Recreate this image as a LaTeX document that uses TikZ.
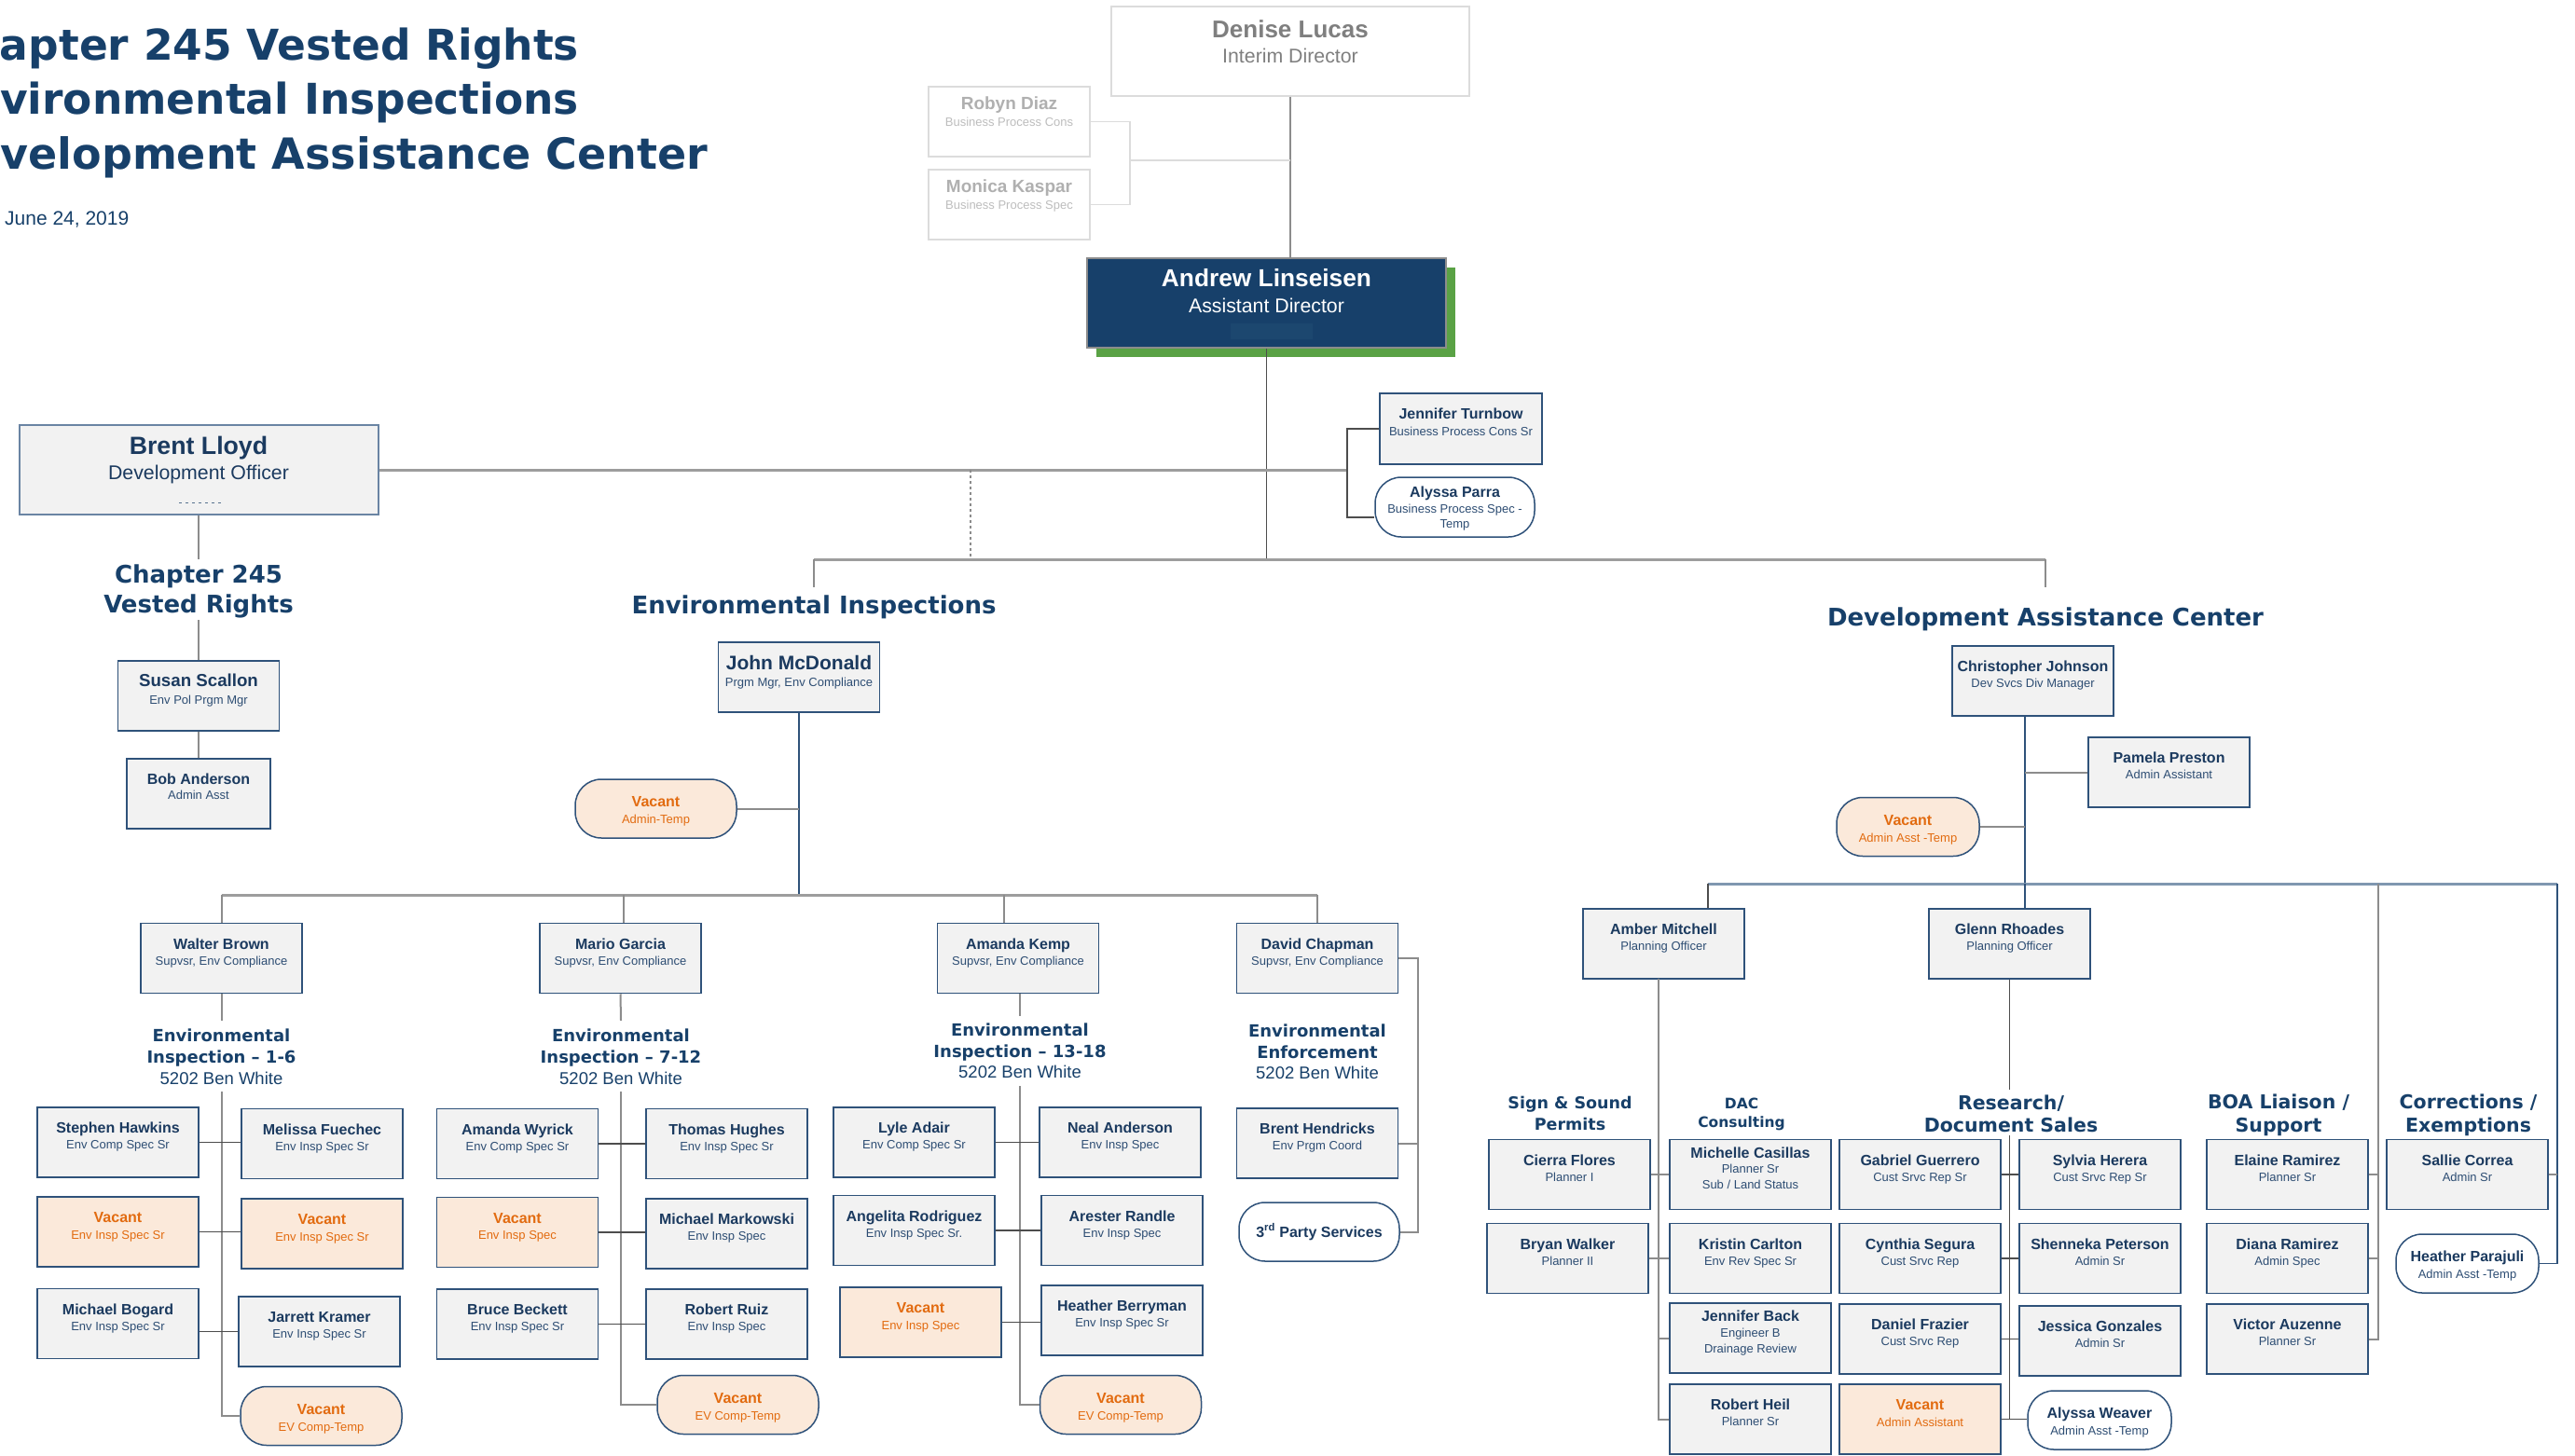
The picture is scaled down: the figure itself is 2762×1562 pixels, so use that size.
\documentclass[tikz,border=0pt]{standalone}
\usepackage{fontspec}
\setmainfont{Liberation Sans}
\newfontfamily\hdrf{DejaVu Sans}
\usetikzlibrary{calc}
\definecolor{hdrc}{HTML}{17406A}
\definecolor{namec}{HTML}{1B3A5F}
\definecolor{titlec}{HTML}{2D4D73}
\definecolor{boxc}{HTML}{2F527A}
\definecolor{boxf}{HTML}{F2F2F2}
\definecolor{vacf}{HTML}{FBE9DA}
\definecolor{vact}{HTML}{E26B10}
\definecolor{lnc}{HTML}{8C8C8C}
\definecolor{dkl}{HTML}{4D4D4D}
\definecolor{dacb}{HTML}{7F97B0}
\definecolor{andf}{HTML}{17406A}
\definecolor{andband}{HTML}{1C476F}
\definecolor{greenc}{HTML}{5AA245}
\definecolor{greyname}{HTML}{7F7F7F}
\definecolor{lgname}{HTML}{B0B0B0}
\definecolor{lgtitle}{HTML}{BDBDBD}
\definecolor{lgborder}{HTML}{DCDCDC}
\definecolor{brentb}{HTML}{6A84A3}
% generic text block: width, height, first baseline, line spacing, content
\newcommand\crd[5]{\parbox[t][#2pt][t]{#1pt}{\centering\fontsize{13pt}{#4pt}\selectfont\rule{0pt}{#3pt}#5}}
\newcommand\nm[2][16]{{\bfseries\fontsize{#1pt}{17pt}\selectfont #2}}
\newcommand\card[2]{\crd{173}{75}{27.7}{17}{\nm{#1}\\{\color{titlec}#2}}}
\newcommand\vcard[1]{\crd{173}{75}{27.7}{17.5}{\nm{Vacant}\\#1}}
\newcommand\rv[2]{\crd{#1}{63}{29.7}{18}{\nm{Vacant}\\#2}}
\newcommand\rcard[3]{\crd{#1}{63}{29.7}{18}{\nm{#2}\\{\color{titlec}#3}}}
\begin{document}
\begin{tikzpicture}[x=1pt,y=-1pt,
  pbox/.style={draw=boxc, fill=boxf, line width=1.5pt, inner sep=0pt, text=namec},
  vbox/.style={pbox, fill=vacf, text=vact},
  rbox/.style={pbox, fill=white, rounded corners=28pt},
  rvbox/.style={vbox, rounded corners=28pt},
  lgbox/.style={draw=lgborder, fill=white, line width=1.5pt, inner sep=0pt, text=lgname},
  hdr/.style={inner sep=0pt, text=hdrc},
  ln/.style={draw=lnc, line width=2pt},
  lnl/.style={draw=lnc, line width=1.5pt},
  lnd/.style={draw=dkl, line width=1.3pt},
  lnn/.style={draw=boxc, line width=1.3pt},
  lnlg/.style={draw=lgborder, line width=1.5pt},
  busg/.style={draw=lnc!85!white, line width=3pt},
  busb/.style={draw=dacb, line width=3pt}]
\useasboundingbox (0,0) rectangle (2762,1562);
\fill[white] (0,0) rectangle (2762,1562);

% ---------- title ----------
\node[hdr, anchor=base west] (t1) at (-66,65) {\hdrf\bfseries\fontsize{45.5pt}{50pt}\selectfont Chapter 245 Vested Rights};
\node[hdr, anchor=base west] (t2) at (-63.5,123) {\hdrf\bfseries\fontsize{45.5pt}{50pt}\selectfont Environmental Inspections};
\node[hdr, anchor=base west] (t3) at (-69,182) {\hdrf\bfseries\fontsize{46pt}{50pt}\selectfont Development Assistance Center};
\node[hdr, anchor=base west] (date) at (5,242) {\fontsize{21pt}{24pt}\selectfont June 24, 2019};

% ---------- top ----------
\fill[greenc] (1176,287) rectangle (1561,383);
\node[draw=lgborder, fill=white, line width=1.5pt, inner sep=0pt, text=greyname] (denise) at (1384,55)
  {\crd{384}{96}{33.3}{27.3}{\nm[26]{Denise Lucas}\\\fontsize{21.3pt}{27.3pt}\selectfont Interim Director}};
\node[lgbox] (robyn) at (1082.5,130.5) {\crd{173}{75}{24.8}{18}{\nm[19]{Robyn Diaz}\\{\color{lgtitle}Business Process Cons}}};
\node[lgbox] (monica) at (1082.5,219.5) {\crd{173}{75}{24.8}{18}{\nm[19]{Monica Kaspar}\\{\color{lgtitle}Business Process Spec}}};
\node[draw=lnc, fill=andf, line width=1.5pt, inner sep=0pt, text=white] (andrew) at (1358.5,325)
  {\crd{385}{96}{30.4}{28.2}{\nm[26.3]{Andrew Linseisen}\\\fontsize{21.3pt}{28.2pt}\selectfont Assistant Director}};
\fill[andband] (1320,347) rectangle (1408,364);

\node[pbox, draw=brentb, line width=2pt] (brent) at (213,504)
  {\crd{385}{96}{31.6}{27}{\nm[26.7]{Brent Lloyd}\\\fontsize{21.3pt}{27pt}\selectfont Development Officer}};
\draw[titlec!80!white, line width=0.9pt, dash pattern=on 3pt off 4pt] (192,539) -- (238,539);
\node[pbox] (turnbow) at (1567,460) {\crd{174}{76}{27.7}{18}{\nm{Jennifer Turnbow}\\{\color{titlec}Business Process Cons Sr}}};
\node[rbox] (parra) at (1560.5,544) {\crd{171}{64}{21.7}{16.5}{\nm{Alyssa Parra}\\{\color{titlec}Business Process Spec -\\Temp}}};

% ---------- section headers ----------
\node[hdr] (ch245hdr) at (213,632.5) {\crd{260}{65}{25}{32}{\hdrf\bfseries\fontsize{26pt}{32pt}\selectfont Chapter 245\\Vested Rights}};
\node[hdr] (einsphdr) at (873,647.5) {\crd{440}{35}{28}{30}{\hdrf\bfseries\fontsize{26pt}{30pt}\selectfont Environmental Inspections}};
\node[hdr] (dachdr) at (2194,655) {\crd{520}{50}{41}{30}{\hdrf\bfseries\fontsize{26pt}{30pt}\selectfont Development Assistance Center}};

% ---------- chapter 245 ----------
\node[pbox] (susan) at (213,746.5) {\crd{173}{75}{27.7}{19}{\nm[18.7]{Susan Scallon}\\{\color{titlec}Env Pol Prgm Mgr}}};
\node[pbox] (bob) at (213,851.5) {\crd{154}{75}{27.4}{16.3}{\nm{Bob Anderson}\\{\color{titlec}Admin Asst}}};

% ---------- environmental inspections ----------
\node[pbox] (john) at (857,726.5) {\crd{173}{75}{29.3}{18}{\nm[21]{John McDonald}\\{\color{titlec}Prgm Mgr, Env Compliance}}};
\node[rvbox] (vacadm) at (703.5,867.5) {\crd{173}{63}{29}{18}{\nm{Vacant}\\Admin-Temp}};

\node[pbox] (walter) at (237.5,1028) {\card{Walter Brown}{Supvsr, Env Compliance}};
\node[pbox] (mario) at (665.5,1028) {\card{Mario Garcia}{Supvsr, Env Compliance}};
\node[pbox] (kemp) at (1092,1028) {\card{Amanda Kemp}{Supvsr, Env Compliance}};
\node[pbox] (chapman) at (1413,1028) {\card{David Chapman}{Supvsr, Env Compliance}};

\node[hdr] (g1hdr) at (237.5,1133) {\crd{230}{76}{22.5}{23}{{\hdrf\bfseries\fontsize{18pt}{23pt}\selectfont Environmental\\Inspection – 1-6}\\\fontsize{18.5pt}{23pt}\selectfont 5202 Ben White}};
\node[hdr] (g2hdr) at (666,1133) {\crd{230}{76}{22.5}{23}{{\hdrf\bfseries\fontsize{18pt}{23pt}\selectfont Environmental\\Inspection – 7-12}\\\fontsize{18.5pt}{23pt}\selectfont 5202 Ben White}};
\node[hdr] (g3hdr) at (1094,1127.5) {\crd{230}{75}{21.5}{22.5}{{\hdrf\bfseries\fontsize{18pt}{22.5pt}\selectfont Environmental\\Inspection – 13-18}\\\fontsize{18.5pt}{22.5pt}\selectfont 5202 Ben White}};
\node[hdr] (g4hdr) at (1413,1127.5) {\crd{230}{75}{22.5}{22.5}{{\hdrf\bfseries\fontsize{18pt}{22.5pt}\selectfont Environmental\\Enforcement}\\\fontsize{18.5pt}{22.5pt}\selectfont 5202 Ben White}};

\node[pbox] (stephen) at (126.5,1225.5) {\card{Stephen Hawkins}{Env Comp Spec Sr}};
\node[pbox] (melissa) at (345.5,1227) {\card{Melissa Fuechec}{Env Insp Spec Sr}};
\node[vbox] (vac1a) at (126.5,1321.5) {\vcard{Env Insp Spec Sr}};
\node[vbox] (vac1b) at (345.5,1323.5) {\vcard{Env Insp Spec Sr}};
\node[pbox] (bogard) at (126.5,1420) {\card{Michael Bogard}{Env Insp Spec Sr}};
\node[pbox] (kramer) at (342.5,1428.5) {\card{Jarrett Kramer}{Env Insp Spec Sr}};
\node[rvbox] (vac1c) at (344.5,1519) {\rv{173}{EV Comp-Temp}};

\node[pbox] (wyrick) at (555,1227) {\card{Amanda Wyrick}{Env Comp Spec Sr}};
\node[pbox] (hughes) at (779.5,1227) {\card{Thomas Hughes}{Env Insp Spec Sr}};
\node[vbox] (vac2a) at (555,1322) {\vcard{Env Insp Spec}};
\node[pbox] (markowski) at (779.5,1323.5) {\card{Michael Markowski}{Env Insp Spec}};
\node[pbox] (beckett) at (555,1420.5) {\card{Bruce Beckett}{Env Insp Spec Sr}};
\node[pbox] (ruiz) at (779.5,1420.5) {\card{Robert Ruiz}{Env Insp Spec}};
\node[rvbox] (vac2b) at (791.5,1507) {\rv{173}{EV Comp-Temp}};

\node[pbox] (lyle) at (980.5,1225.5) {\card{Lyle Adair}{Env Comp Spec Sr}};
\node[pbox] (neal) at (1201.5,1225.5) {\card{Neal Anderson}{Env Insp Spec}};
\node[pbox] (angelita) at (980.5,1320) {\card{Angelita Rodriguez}{Env Insp Spec Sr.}};
\node[pbox] (arester) at (1203.5,1320) {\card{Arester Randle}{Env Insp Spec}};
\node[vbox] (vac3a) at (987.5,1418.5) {\vcard{Env Insp Spec}};
\node[pbox] (berryman) at (1203.5,1416.5) {\card{Heather Berryman}{Env Insp Spec Sr}};
\node[rvbox] (vac3b) at (1202,1507) {\rv{173}{EV Comp-Temp}};

\node[pbox] (hendricks) at (1413,1226.5) {\card{Brent Hendricks}{Env Prgm Coord}};
\node[rbox] (party3) at (1415,1321.5) {\crd{172}{63}{37.2}{17}{\nm{3\textsuperscript{rd} Party Services}}};

% ---------- development assistance center ----------
\node[pbox] (christopher) at (2180.5,730.5) {\card{Christopher Johnson}{Dev Svcs Div Manager}};
\node[pbox] (pamela) at (2326.5,828.5) {\card{Pamela Preston}{Admin Assistant}};
\node[rvbox] (vacdac) at (2046.5,887) {\rv{153}{Admin Asst -Temp}};
\node[pbox] (amber) at (1784.5,1012.5) {\card{Amber Mitchell}{Planning Officer}};
\node[pbox] (glenn) at (2155.5,1012.5) {\card{Glenn Rhoades}{Planning Officer}};

\node[hdr] (sshdr) at (1684,1190) {\crd{200}{60}{29.4}{23}{\hdrf\bfseries\fontsize{17.5pt}{23pt}\selectfont Sign \& Sound\\Permits}};
\node[hdr] (dcshdr) at (1868,1190) {\crd{160}{60}{29.6}{20}{\hdrf\bfseries\fontsize{15.5pt}{20pt}\selectfont DAC\\Consulting}};
\node[hdr] (reshdr) at (2157,1193.5) {\crd{230}{49}{21.5}{24}{\hdrf\bfseries\fontsize{20.5pt}{24pt}\selectfont Research/\\Document Sales}};
\node[hdr] (boahdr) at (2444,1190) {\crd{200}{60}{29.5}{25}{\hdrf\bfseries\fontsize{20.5pt}{25pt}\selectfont BOA Liaison /\\Support}};
\node[hdr] (corhdr) at (2647.5,1190) {\crd{200}{60}{29.5}{25}{\hdrf\bfseries\fontsize{20.5pt}{25pt}\selectfont Corrections /\\Exemptions}};

\node[pbox] (cierra) at (1683.5,1260) {\card{Cierra Flores}{Planner I}};
\node[pbox] (bryan) at (1681.5,1350) {\card{Bryan Walker}{Planner II}};
\node[pbox] (michelle) at (1877.5,1260) {\crd{173}{75}{19.7}{16.5}{\nm{Michelle Casillas}\\{\color{titlec}Planner Sr\\Sub / Land Status}}};
\node[pbox] (kristin) at (1877.5,1350) {\card{Kristin Carlton}{Env Rev Spec Sr}};
\node[pbox] (jback) at (1877.5,1435.5) {\crd{173}{75}{19.7}{16.8}{\nm{Jennifer Back}\\{\color{titlec}Engineer B\\Drainage Review}}};
\node[pbox] (heil) at (1877.5,1522.5) {\card{Robert Heil}{Planner Sr}};

\node[pbox] (gabriel) at (2059.5,1260) {\card{Gabriel Guerrero}{Cust Srvc Rep Sr}};
\node[pbox] (cynthia) at (2059.5,1350) {\card{Cynthia Segura}{Cust Srvc Rep}};
\node[pbox] (frazier) at (2059.5,1436.5) {\card{Daniel Frazier}{Cust Srvc Rep}};
\node[vbox] (vac4) at (2059.5,1522.5) {\vcard{Admin Assistant}};
\node[pbox] (sylvia) at (2252.5,1260) {\card{Sylvia Herera}{Cust Srvc Rep Sr}};
\node[pbox] (shenneka) at (2252.5,1350) {\card{Shenneka Peterson}{Admin Sr}};
\node[pbox] (jessica) at (2252.5,1438.5) {\card{Jessica Gonzales}{Admin Sr}};
\node[rbox] (aweaver) at (2252,1523.5) {\rcard{154}{Alyssa Weaver}{Admin Asst -Temp}};

\node[pbox] (elaine) at (2453.5,1260) {\card{Elaine Ramirez}{Planner Sr}};
\node[pbox] (diana) at (2453.5,1350) {\card{Diana Ramirez}{Admin Spec}};
\node[pbox] (victor) at (2453.5,1436.5) {\card{Victor Auzenne}{Planner Sr}};
\node[pbox] (sallie) at (2646.5,1260) {\card{Sallie Correa}{Admin Sr}};
\node[rbox] (parajuli) at (2646.5,1355.5) {\rcard{153}{Heather Parajuli}{Admin Asst -Temp}};

% ---------- connectors: top ----------
\draw[lnl] (denise.south) -- (denise.south |- andrew.north);
\coordinate (rmj) at (1212,172);
\draw[lnlg] (robyn.east) -| (rmj) |- (monica.east);
\draw[lnlg] (rmj) -- (rmj -| denise.south);
\coordinate (topbus) at (1358.5,600);
\draw[lnd] (andrew.south) -- (topbus);
\coordinate (tb) at (1445,504);
\draw[busg] (brent.east) -- (tb);
\draw[lnd] (turnbow.west) -| (tb) |- ($(parra.west)+(0,11)$);
\coordinate (dsh) at (1041,504);
\draw[lnl, dashed] (dsh) -- (dsh |- topbus);
\draw[busg] (einsphdr.north |- topbus) -- (dachdr.north |- topbus);
\draw[lnl] (einsphdr.north |- topbus) -- (einsphdr.north);
\draw[lnl] (dachdr.north |- topbus) -- (dachdr.north);

% chapter 245
\draw[lnl] (brent.south) -- (ch245hdr.north);
\draw[lnl] (ch245hdr.south) -- (susan.north);
\draw[lnl] (susan.south) -- (bob.north);

% environmental inspections
\coordinate (envbus) at (857,960);
\draw[lnn] (john.south) -- (envbus);
\draw[ln] (vacadm.east) -- (vacadm.east -| john.south);
\draw[busg] (walter.north |- envbus) -- (chapman.north |- envbus);
\draw[ln] (walter.north |- envbus) -- (walter.north);
\coordinate (mariod) at (669,960);
\draw[ln] (mariod) -- (mariod |- mario.north);
\coordinate (kempd) at (1077,960);
\draw[ln] (kempd) -- (kempd |- kemp.north);
\draw[ln] (chapman.north |- envbus) -- (chapman.north);

\draw[ln] (walter.south) -- (g1hdr.north);
\draw[ln] (g1hdr.south) |- (vac1c.west);
\draw[lnd] (stephen.east) -- (stephen.east -| melissa.west);
\draw[lnd] (vac1a.east) -- (vac1a.east -| vac1b.west);
\draw[lnd] (kramer.west -| bogard.east) -- (kramer.west);

\draw[ln] (mario.south) -- (g2hdr.north);
\draw[ln] (g2hdr.south) |- (vac2b.west);
\draw[lnd] (wyrick.east) -- (wyrick.east -| hughes.west);
\draw[lnd] (vac2a.east) -- (vac2a.east -| markowski.west);
\draw[lnd] (beckett.east) -- (beckett.east -| ruiz.west);

\draw[ln] (kemp.south -| g3hdr.north) -- (g3hdr.north);
\draw[ln] (g3hdr.south) |- (vac3b.west);
\draw[lnd] (lyle.east) -- (lyle.east -| neal.west);
\draw[lnd] (angelita.east) -- (angelita.east -| arester.west);
\draw[lnd] (vac3a.east) -- (vac3a.east -| berryman.west);

\coordinate (chb) at (1521,1028);
\draw[ln] (chapman.east) -- (chb) |- (party3.east);
\draw[ln] (hendricks.east) -- (hendricks.east -| chb);

% development assistance center
\coordinate (dacbus) at (2172,948);
\draw[lnn] (dacbus |- christopher.south) -- (dacbus);
\draw[ln] (pamela.west) -- (pamela.west -| dacbus);
\draw[ln] (vacdac.east) -- (vacdac.east -| dacbus);
\coordinate (dacL) at (1832,948);
\coordinate (dacR) at (2743,948);
\draw[busb] (dacL) -- (dacR);
\draw[lnd] (dacL) -- (dacL |- amber.north);
\draw[lnn] (dacbus) -- (dacbus |- glenn.north);
\coordinate (boacol) at (2551,948);
\draw[ln] (boacol) |- (victor.east);
\draw[ln] (elaine.east) -- (elaine.east -| boacol);
\draw[ln] (diana.east) -- (diana.east -| boacol);
\draw[lnn] (dacR) |- (parajuli.east);
\draw[ln] (sallie.east) -- (sallie.east -| dacR);
\coordinate (ambc) at (1779,1050);
\draw[ln] (ambc) |- (heil.west);
\draw[ln] (cierra.east) -- (michelle.west);
\draw[ln] (bryan.east) -- (bryan.east -| kristin.west);
\draw[ln] (jback.west -| ambc) -- (jback.west);
\draw[lnd] (glenn.south) -- (glenn.south |- reshdr.north);
\draw[lnd] (glenn.south |- reshdr.south) -- (glenn.south |- vac4.east);
\draw[lnd] (gabriel.east) -- (sylvia.west);
\draw[lnd] (cynthia.east) -- (shenneka.west);
\draw[lnd] (frazier.east) -- (frazier.east -| jessica.west);
\draw[lnd] (vac4.east) -- (vac4.east -| aweaver.west);
\end{tikzpicture}
\end{document}
